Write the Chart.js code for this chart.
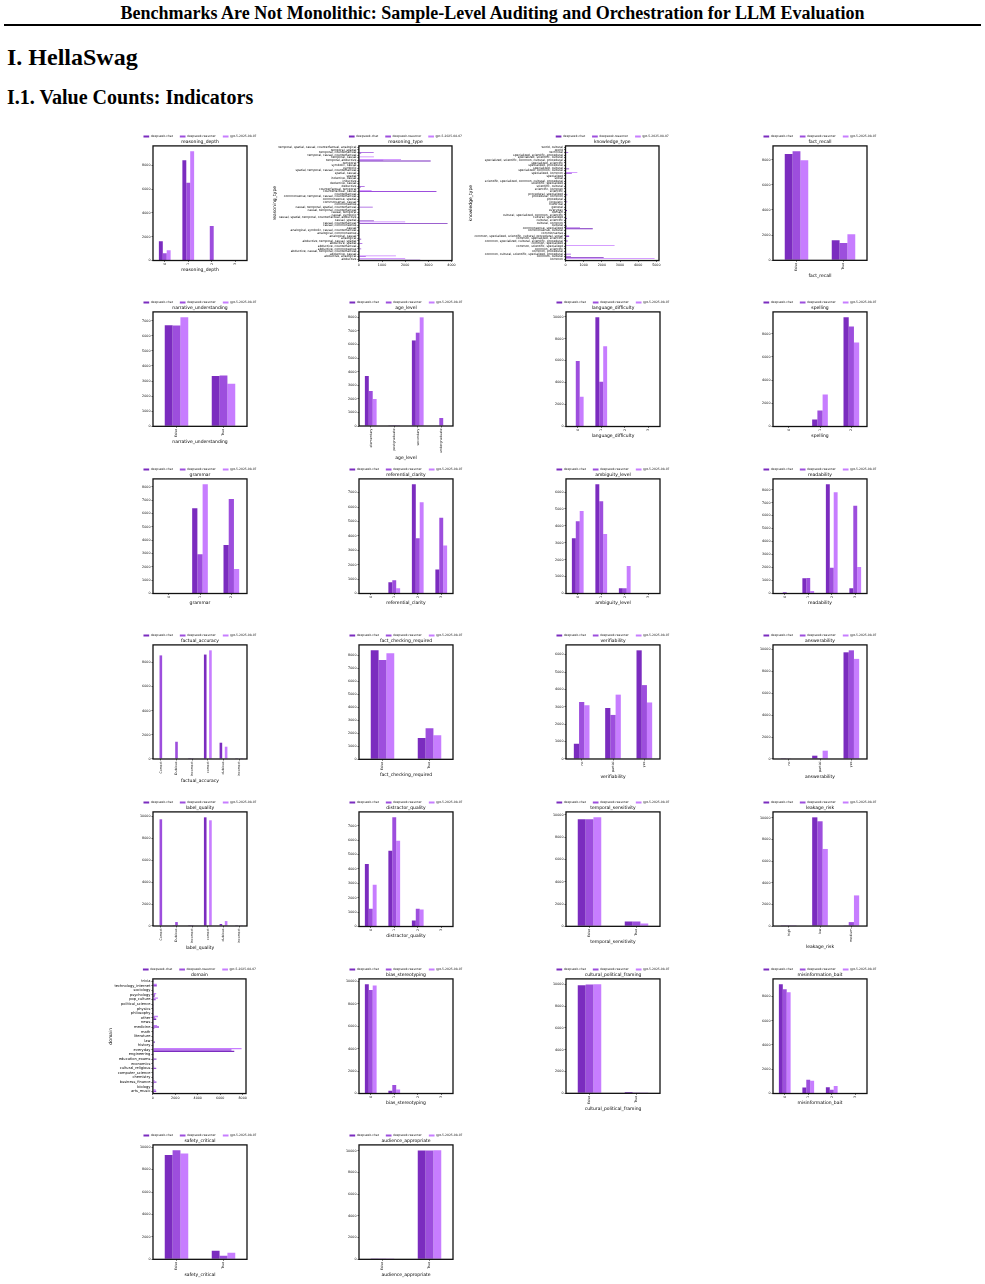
<!DOCTYPE html>
<html>
<head>
<meta charset="utf-8">
<title>HellaSwag value counts</title>
<script src="https://cdn.jsdelivr.net/npm/chart.js@4.4.1/dist/chart.umd.min.js"></script>
<style>
  html, body { margin: 0; padding: 0; background: #fff; }
  body { position: relative; width: 985px; height: 1284px; overflow: hidden; font-family: "Liberation Serif", "Times New Roman", serif; color: #000; }
  .doc-title { position: absolute; left: 0; top: 3px; width: 985px; text-align: center; font-size: 18px; line-height: 20px; font-weight: bold; }
  .rule { position: absolute; left: 4px; top: 24px; width: 977px; height: 2px; background: #000; }
  h1 { position: absolute; left: 7px; top: 43px; margin: 0; font-size: 24px; line-height: 28px; }
  h2 { position: absolute; left: 7px; top: 85px; margin: 0; font-size: 20px; line-height: 24px; }
  canvas { position: absolute; }
</style>
</head>
<body>
<div class="doc-title">Benchmarks Are Not Monolithic: Sample-Level Auditing and Orchestration for LLM Evaluation</div>
<div class="rule"></div>
<h1>I. HellaSwag</h1>
<h2>I.1. Value Counts: Indicators</h2>
<script>
const MODELS = ["deepseek-chat", "deepseek-reasoner", "gpt-5-2025-08-07"];
const COLORS = ["#7b2cbf", "#9d4edd", "#c77dff"];

// shared category lists
const boolCats = ["False", "True"];
const levels3 = ["0", "1", "2"];
const levels4 = ["0", "1", "2", "3"];
const ageCats = ["elementary", "postgraduate", "secondary", "undergraduate"];
const qualityCats = ["Correct", "Dubious", "Incorrect", "correct", "dubious", "incorrect"];
const noPartialYes = ["no", "partial", "yes"];
const riskCats = ["high", "low", "medium"];

// reasoning_type (bottom -> top)
const reasoningTypeCats = [
  "abductive", "abductive, analogical", "abductive, causal", "abductive, causal, temporal, counterfactual",
  "abductive, commonsense", "abductive, counterfactual", "abductive, spatial", "abductive, temporal, causal, spatial",
  "analogical", "analogical, causal", "analogical, commonsense", "analogical, symbolic, causal, counterfactual",
  "causal", "causal, commonsense", "causal, counterfactual", "causal, spatial",
  "causal, spatial, temporal, counterfactual, abductive", "causal, symbolic", "causal, temporal", "causal, temporal, counterfactual",
  "causal, temporal, spatial, counterfactual", "commonsense", "commonsense, causal", "commonsense, spatial",
  "commonsense, temporal, causal, counterfactual", "counterfactual", "counterfactual, causal", "counterfactual, temporal",
  "deductive", "deductive, causal", "inductive", "inductive, causal",
  "spatial", "spatial, causal", "spatial, temporal, causal, counterfactual", "symbolic",
  "symbolic, causal", "temporal", "temporal, abductive", "temporal, causal",
  "temporal, causal, counterfactual", "temporal, counterfactual", "temporal, spatial", "temporal, spatial, causal, counterfactual, analogical"
];
const reasoningTypeChat = [
  2650, 0, 0, 0, 0, 0, 0, 0, 100, 0, 0,
  0, 0, 0, 3830, 650, 0, 0, 0, 0, 0, 0,
  0, 0, 0, 0, 0, 0, 80, 0, 0, 0, 0,
  0, 0, 0, 0, 0, 3100, 0, 0, 100, 0, 0
];
const reasoningTypeReasoner = [
  0, 300, 0, 0, 100, 0, 150, 0, 0, 0, 0,
  0, 0, 0, 0, 0, 0, 0, 0, 0, 600, 0,
  0, 0, 0, 0, 3350, 0, 250, 0, 0, 0, 0,
  0, 0, 0, 0, 0, 1050, 0, 0, 640, 0, 0
];
const reasoningTypeGpt = [
  2000, 1600, 0, 0, 0, 0, 0, 0, 0, 0, 0,
  0, 0, 0, 2000, 0, 0, 0, 0, 0, 0, 0,
  0, 0, 0, 0, 550, 0, 0, 0, 0, 0, 0,
  0, 0, 0, 0, 0, 1820, 650, 0, 0, 0, 0
];

// knowledge_type (bottom -> top)
const knowledgeTypeCats = [
  "common", "common, cultural", "common, cultural, scientific, specialized, procedural", "common, procedural",
  "common, scientific", "common, scientific, specialized", "common, specialized", "common, specialized, cultural, scientific, procedural",
  "common, specialized, scientific", "common, specialized, scientific, cultural, procedural, social", "commonsense", "commonsense, cultural",
  "commonsense, specialized", "cultural", "cultural, common", "cultural, scientific",
  "cultural, specialized", "cultural, specialized, common, scientific", "domain", "everyday",
  "general", "historical", "linguistic", "procedural",
  "procedural, common", "procedural, specialized", "scientific", "scientific, common",
  "scientific, cultural", "scientific, specialized", "scientific, specialized, common, cultural, procedural", "social",
  "specialized", "specialized, common", "specialized, common, cultural", "specialized, cultural",
  "specialized, procedural", "specialized, scientific", "specialized, scientific, common, cultural, procedural", "specialized, scientific, cultural",
  "specialized, scientific, procedural", "technical", "world", "world, cultural"
];
const knowledgeTypeChat = [
  0, 2100, 50, 0, 0, 0, 0, 0, 0, 200, 0,
  0, 1500, 80, 0, 0, 80, 0, 0, 80, 0, 0,
  0, 0, 0, 100, 0, 0, 0, 0, 0, 0, 0,
  0, 0, 200, 0, 0, 0, 0, 0, 0, 0, 0
];
const knowledgeTypeReasoner = [
  0, 300, 300, 0, 0, 0, 0, 120, 0, 200, 0,
  0, 800, 0, 0, 0, 0, 0, 0, 0, 0, 0,
  100, 0, 0, 0, 0, 0, 0, 0, 0, 0, 0,
  350, 0, 0, 0, 0, 0, 0, 0, 150, 0, 0
];
const knowledgeTypeGpt = [
  4900, 0, 0, 0, 0, 2700, 0, 0, 0, 0, 0,
  0, 0, 0, 0, 0, 0, 0, 0, 0, 0, 0,
  0, 0, 0, 0, 0, 0, 0, 0, 0, 0, 0,
  650, 0, 0, 0, 0, 0, 0, 0, 0, 0, 0
];

// domain (bottom -> top)
const domainCats = [
  "arts_music", "biology", "business_finance", "chemistry", "computer_science",
  "cultural_religious", "economics", "education_exams", "engineering", "everyday",
  "history", "law", "literature", "math", "medicine",
  "news", "other", "philosophy", "physics", "political_science",
  "pop_culture", "psychology", "sociology", "technology_internet", "trivia"
];
const domainChat = [100, 30, 80, 20, 30, 60, 20, 80, 50, 7250, 30, 180, 30, 20, 120, 20, 300, 10, 10, 20, 40, 150, 20, 50, 0];
const domainReasoner = [300, 60, 320, 50, 60, 300, 40, 320, 80, 7000, 20, 40, 40, 30, 550, 60, 200, 30, 30, 60, 250, 200, 60, 350, 10];
const domainGpt = [250, 20, 150, 10, 40, 120, 20, 100, 30, 7900, 20, 20, 20, 10, 380, 20, 450, 10, 10, 30, 450, 300, 30, 350, 0];

// vertical panels
const reasoningDepthChat = [1615, 8410, 0, 17];
const reasoningDepthReasoner = [613, 6530, 2897, 10];
const reasoningDepthGpt = [864, 9164, 0, 8];

const factRecallChat = [8440, 1600];
const factRecallReasoner = [8660, 1380];
const factRecallGpt = [7960, 2080];

const narrativeChat = [6700, 3340];
const narrativeReasoner = [6680, 3360];
const narrativeGpt = [7220, 2820];

const ageChat = [3680, 20, 6300, 40];
const ageReasoner = [2577, 10, 6870, 590];
const ageGpt = [1990, 10, 8000, 40];

const languageChat = [50, 9940, 40, 10];
const languageReasoner = [5964, 4066, 15, 0];
const languageGpt = [2711, 7319, 5, 5];

const spellingChat = [20, 604, 9420];
const spellingReasoner = [20, 1381, 8640];
const spellingGpt = [20, 2763, 7260];

const grammarChat = [20, 6384, 3640];
const grammarReasoner = [20, 2943, 7080];
const grammarGpt = [20, 8180, 1840];

const referentialChat = [20, 785, 7575, 1660];
const referentialReasoner = [20, 924, 3834, 5264];
const referentialGpt = [20, 370, 6328, 3324];

const ambiguityChat = [3268, 6457, 315, 0];
const ambiguityReasoner = [4272, 5453, 315, 0];
const ambiguityGpt = [4880, 3520, 1620, 20];

const readabilityChat = [20, 1180, 8410, 410];
const readabilityReasoner = [100, 1200, 1980, 6760];
const readabilityGpt = [0, 190, 7800, 2050];

const factualAccChat = [0, 0, 10, 8660, 1350, 20];
const factualAccReasoner = [8590, 1430, 20, 0, 0, 0];
const factualAccGpt = [0, 0, 0, 9010, 1020, 10];

const factCheckChat = [8400, 1640];
const factCheckReasoner = [7650, 2390];
const factCheckGpt = [8180, 1860];

const verifiabilityChat = [876, 2933, 6248];
const verifiabilityReasoner = [3276, 2533, 4248];
const verifiabilityGpt = [3090, 3700, 3250];

const answerabilityChat = [20, 300, 9720];
const answerabilityReasoner = [60, 80, 9900];
const answerabilityGpt = [0, 758, 9121];

const labelQualityChat = [0, 20, 15, 9910, 180, 20];
const labelQualityReasoner = [9730, 360, 15, 0, 0, 0];
const labelQualityGpt = [0, 0, 0, 9640, 450, 20];

const distractorChat = [4340, 5260, 418, 20];
const distractorReasoner = [1230, 7580, 1230, 0];
const distractorGpt = [2900, 5960, 1180, 0];

const temporalChat = [9600, 440];
const temporalReasoner = [9600, 440];
const temporalGpt = [9780, 260];

const leakageChat = [20, 10030, 30];
const leakageReasoner = [20, 9666, 365];
const leakageGpt = [10, 7112, 2827];

const biasChat = [9750, 250, 30, 10];
const biasReasoner = [9250, 750, 30, 10];
const biasGpt = [9650, 350, 20, 10];

const culturalChat = [9900, 120];
const culturalReasoner = [9980, 40];
const culturalGpt = [9990, 30];

const misinfoChat = [9000, 500, 520, 10];
const misinfoReasoner = [8600, 1130, 300, 10];
const misinfoGpt = [8350, 1050, 620, 10];

const safetyChat = [9300, 760];
const safetyReasoner = [9720, 320];
const safetyGpt = [9450, 590];

const audienceChat = [30, 10010];
const audienceReasoner = [20, 10020];
const audienceGpt = [10, 10030];

const panels = [
  { name: "reasoning_depth", cats: levels4, vals: [reasoningDepthChat, reasoningDepthReasoner, reasoningDepthGpt], step: 2000 },
  { name: "reasoning_type", cats: reasoningTypeCats, vals: [reasoningTypeChat, reasoningTypeReasoner, reasoningTypeGpt], step: 1000, horizontal: true, catFont: 3 },
  { name: "knowledge_type", cats: knowledgeTypeCats, vals: [knowledgeTypeChat, knowledgeTypeReasoner, knowledgeTypeGpt], step: 1000, horizontal: true, catFont: 3 },
  { name: "fact_recall", cats: boolCats, vals: [factRecallChat, factRecallReasoner, factRecallGpt], step: 2000 },
  { name: "narrative_understanding", cats: boolCats, vals: [narrativeChat, narrativeReasoner, narrativeGpt], step: 1000 },
  { name: "age_level", cats: ageCats, vals: [ageChat, ageReasoner, ageGpt], step: 1000 },
  { name: "language_difficulty", cats: levels4, vals: [languageChat, languageReasoner, languageGpt], step: 2000 },
  { name: "spelling", cats: levels3, vals: [spellingChat, spellingReasoner, spellingGpt], step: 2000 },
  { name: "grammar", cats: levels3, vals: [grammarChat, grammarReasoner, grammarGpt], step: 1000 },
  { name: "referential_clarity", cats: levels4, vals: [referentialChat, referentialReasoner, referentialGpt], step: 1000 },
  { name: "ambiguity_level", cats: levels4, vals: [ambiguityChat, ambiguityReasoner, ambiguityGpt], step: 1000 },
  { name: "readability", cats: levels4, vals: [readabilityChat, readabilityReasoner, readabilityGpt], step: 1000 },
  { name: "factual_accuracy", cats: qualityCats, vals: [factualAccChat, factualAccReasoner, factualAccGpt], step: 2000 },
  { name: "fact_checking_required", cats: boolCats, vals: [factCheckChat, factCheckReasoner, factCheckGpt], step: 1000 },
  { name: "verifiability", cats: noPartialYes, vals: [verifiabilityChat, verifiabilityReasoner, verifiabilityGpt], step: 1000 },
  { name: "answerability", cats: noPartialYes, vals: [answerabilityChat, answerabilityReasoner, answerabilityGpt], step: 2000 },
  { name: "label_quality", cats: qualityCats, vals: [labelQualityChat, labelQualityReasoner, labelQualityGpt], step: 2000 },
  { name: "distractor_quality", cats: levels4, vals: [distractorChat, distractorReasoner, distractorGpt], step: 1000 },
  { name: "temporal_sensitivity", cats: boolCats, vals: [temporalChat, temporalReasoner, temporalGpt], step: 2000 },
  { name: "leakage_risk", cats: riskCats, vals: [leakageChat, leakageReasoner, leakageGpt], step: 2000 },
  { name: "domain", cats: domainCats, vals: [domainChat, domainReasoner, domainGpt], step: 2000, horizontal: true, catFont: 3.6 },
  { name: "bias_stereotyping", cats: levels4, vals: [biasChat, biasReasoner, biasGpt], step: 2000 },
  { name: "cultural_political_framing", cats: boolCats, vals: [culturalChat, culturalReasoner, culturalGpt], step: 2000 },
  { name: "misinformation_bait", cats: levels4, vals: [misinfoChat, misinfoReasoner, misinfoGpt], step: 2000 },
  { name: "safety_critical", cats: boolCats, vals: [safetyChat, safetyReasoner, safetyGpt], step: 2000 },
  { name: "audience_appropriate", cats: boolCats, vals: [audienceChat, audienceReasoner, audienceGpt], step: 2000 }
];

// grid geometry (plot area of each panel)
const PLOT_LEFT = [152.5, 359, 566, 772.5];
const PLOT_TOP0 = 145.7;
const ROW_STEP = 166.55;
const PLOT_W = 93.5;
const PLOT_H = 114.5;
const TICK_FONT = 3.3;

const FONT = "'DejaVu Sans', 'Liberation Sans', sans-serif";
Chart.defaults.font.family = FONT;
Chart.defaults.color = "#000";

const measureCtx = document.createElement("canvas").getContext("2d");
function textWidth(t, size) {
  measureCtx.font = size + "px " + FONT;
  return measureCtx.measureText(t).width;
}

// legend + title centred over the plot, like matplotlib
const centerOnPlot = {
  id: "centerOnPlot",
  afterLayout(chart) {
    const a = chart.chartArea;
    const mid = (a.left + a.right) / 2;
    [chart.legend, chart.titleBlock].forEach(b => {
      if (!b) return;
      const s = mid - (b.left + b.right) / 2;
      b.left += s;
      b.right += s;
    });
  }
};

// axes box on all four sides
const frame = {
  id: "frame",
  afterDatasetsDraw(chart) {
    const { ctx, chartArea: a } = chart;
    ctx.save();
    ctx.strokeStyle = "#111";
    ctx.lineWidth = 1.3;
    ctx.strokeRect(a.left, a.top, a.right - a.left, a.bottom - a.top);
    ctx.restore();
  }
};

function buildConfig(p) {
  const horiz = !!p.horizontal;
  const order = horiz ? [2, 1, 0] : [0, 1, 2];
  const datasets = order.map(k => ({
    label: MODELS[k],
    data: p.vals[k],
    backgroundColor: COLORS[k],
    borderWidth: 0,
    barPercentage: 1,
    categoryPercentage: horiz ? 0.9 : 0.5
  }));
  const maxVal = Math.max(...p.vals.flat()) * 1.05;
  const tickValues = [];
  for (let v = 0; v <= maxVal; v += p.step) tickValues.push(v);
  const tickGrid = { drawOnChartArea: false, drawTicks: true, tickLength: 1.5, tickWidth: 0.6, tickColor: "#111", offset: false };

  const valueAxis = {
    min: 0,
    max: maxVal,
    border: { display: false },
    grid: tickGrid,
    afterBuildTicks: s => { s.ticks = tickValues.map(v => ({ value: v })); },
    ticks: { font: { size: TICK_FONT }, padding: 1, maxRotation: 0, minRotation: 0, callback: v => String(v) }
  };
  const catAxis = {
    border: { display: false },
    grid: tickGrid,
    ticks: {
      autoSkip: false,
      font: { size: horiz ? p.catFont : TICK_FONT },
      padding: 1,
      maxRotation: horiz ? 0 : 90,
      minRotation: horiz ? 0 : 90
    },
    title: { display: true, text: p.name, font: { size: 4.5 }, padding: horiz ? { top: 1, bottom: 1 } : { top: 1.5, bottom: 0 } }
  };

  let scales;
  if (horiz) {
    const lw = Math.max(...p.cats.map(c => textWidth(c, p.catFont)));
    catAxis.reverse = true;
    catAxis.afterFit = s => { s.width = lw + 1.5 + 1 + 4.5 * 1.2 + 2; };
    scales = { x: valueAxis, y: catAxis };
  } else {
    valueAxis.afterFit = s => { s.width = 44; };
    scales = { x: catAxis, y: valueAxis };
  }

  return {
    type: "bar",
    data: { labels: p.cats, datasets },
    options: {
      indexAxis: horiz ? "y" : "x",
      responsive: false,
      animation: false,
      devicePixelRatio: 1,
      layout: { padding: { left: 2, right: 16, top: 0, bottom: 2 } },
      scales,
      plugins: {
        legend: {
          display: true,
          position: "top",
          weight: 3000,
          reverse: horiz,
          maxHeight: 11,
          labels: { font: { size: 3 }, boxWidth: 5.7, boxHeight: 2, padding: 7, color: "#222" }
        },
        title: {
          display: true,
          text: p.name,
          weight: 500,
          font: { size: 4.5, weight: "normal" },
          padding: { top: 0, bottom: 1.5 },
          color: "#000"
        },
        tooltip: { enabled: false }
      }
    },
    plugins: [centerOnPlot, frame]
  };
}

function placeChart(p, px, py) {
  const canvas = document.createElement("canvas");
  canvas.setAttribute("role", "img");
  canvas.setAttribute("aria-label", p.name);
  document.body.appendChild(canvas);
  let w = p.horizontal ? 260 : 160;
  let h = 185;
  let chart = null;
  for (let pass = 0; pass < 3; pass++) {
    canvas.width = w;
    canvas.height = h;
    canvas.style.width = w + "px";
    canvas.style.height = h + "px";
    chart = new Chart(canvas, buildConfig(p));
    const a = chart.chartArea;
    const nw = Math.round(w + PLOT_W - (a.right - a.left));
    const nh = Math.round(h + PLOT_H - (a.bottom - a.top));
    if ((nw === w && nh === h) || pass === 2) break;
    chart.destroy();
    w = nw;
    h = nh;
  }
  const a = chart.chartArea;
  canvas.style.left = Math.round(px - a.left) + "px";
  canvas.style.top = Math.round(py - a.top) + "px";
}

panels.forEach((p, i) => {
  const row = Math.floor(i / 4);
  const col = i % 4;
  placeChart(p, PLOT_LEFT[col], PLOT_TOP0 + ROW_STEP * row);
});
</script>
</body>
</html>
